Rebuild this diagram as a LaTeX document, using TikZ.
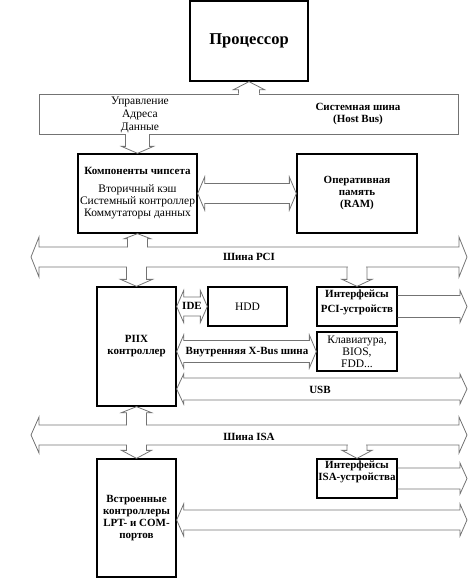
\documentclass[tikz,border=0pt]{standalone}
\usepackage{fontspec}
\setmainfont{Liberation Serif}
\usetikzlibrary{calc,positioning}

% fat bus arrows: tip, base, half shaft, half head, head length
\newcommand{\fatv}[5]{%
  \fill[white] ($(#2)+(-#3+0.8,-1.5)$) rectangle ($(#2)+(#3-0.8,1.5)$);
  \draw[bus] ($(#2)+(-#3,0)$) -- ($(#1)+(-#3,#5)$) -- ($(#1)+(-#4,#5)$) -- (#1)
    -- ($(#1)+(#4,#5)$) -- ($(#1)+(#3,#5)$) -- ($(#2)+(#3,0)$);
}
% left tip, right tip, half shaft, half head, head length
\newcommand{\fatdbl}[5]{%
  \draw[bus] (#1) -- ($(#1)+(#5,-#4)$) -- ($(#1)+(#5,-#3)$) -- ($(#2)+(-#5,-#3)$)
    -- ($(#2)+(-#5,-#4)$) -- (#2) -- ($(#2)+(-#5,#4)$) -- ($(#2)+(-#5,#3)$)
    -- ($(#1)+(#5,#3)$) -- ($(#1)+(#5,#4)$) -- cycle;
}
% base, tip, half shaft, half head, head length
\newcommand{\fath}[5]{%
  \draw[bus] ($(#1)+(0,-#3)$) -- ($(#2)+(-#5,-#3)$) -- ($(#2)+(-#5,-#4)$) -- (#2)
    -- ($(#2)+(-#5,#4)$) -- ($(#2)+(-#5,#3)$) -- ($(#1)+(0,#3)$);
}

\begin{document}
\begin{tikzpicture}
  [x=1pt,y=-1pt,
   box/.style={draw,line width=1.3pt,align=center,inner sep=1pt,
     font=\fontsize{11.5}{12}\selectfont},
   ltext/.style={align=center,inner sep=0pt,font=\fontsize{11.5}{13}\selectfont},
   btext/.style={align=center,inner sep=0pt,font=\fontsize{11}{12}\selectfont\bfseries},
   bus/.style={draw=black!55,line width=0.8pt,line join=miter}]
  \useasboundingbox (0,0) rectangle (474,584);

  \node[box,font=\fontsize{16.5}{18}\selectfont\bfseries,minimum width=118,minimum height=80] (cpu) at (249,41) {Процессор};
  \node[draw=black!55,line width=0.8pt,minimum width=419,minimum height=40] (host) at (248.5,114) {};
  \node[ltext] (ctl) at (140,115) {Управление\\Адреса\\Данные};
  \node[btext] (hostname) at (358,114) {Системная шина\\(Host Bus)};

  \node[box,minimum width=119,minimum height=79] (chip) at (137.5,193.5)
    {\textbf{\fontsize{11}{12}\selectfont Компоненты чипсета}\\[6pt]Вторичный кэш\\Системный контроллер\\Коммутаторы данных};
  \node[box,btext,minimum width=120,minimum height=79] (ram) at (357,193.5) {Оперативная\\память\\(RAM)};

  \node[box,btext,minimum width=79,minimum height=119] (piix) at (136.5,346.5) {PIIX\\контроллер};
  \node[box,minimum width=79,minimum height=39] (hdd) at (247.5,306.5) {HDD};
  \node[box,minimum width=80,minimum height=39] (pcidev) at (357,306.5) {};
  \node[btext,font=\fontsize{11}{15}\selectfont\bfseries] (pcidevL) [below=3pt of pcidev.north] {Интерфейсы\\PCI-устройств};
  \node[box,minimum width=80,minimum height=39] (kbd) at (357,351.5) {Клавиатура,\\BIOS,\\FDD...};

  \node[box,btext,minimum width=79,minimum height=118] (builtin) at (136.5,518) {Встроенные\\контроллеры\\LPT- и COM-\\портов};
  \node[box,minimum width=80,minimum height=39] (isadev) at (357,478.5) {};
  \node[btext] (isadevL) [below=2pt of isadev.north] {Интерфейсы\\ISA-устройства};

  \node[btext] (pcilbl) at (249,257) {Шина PCI};
  \node[btext] (isalbl) at (249,437) {Шина ISA};
  \node[btext] (usblbl) at (320,390) {USB};
  \node[btext] (xbuslbl) at (247,352) {Внутренняя X-Bus шина};
  \node[btext] (idelbl) at (192,306) {IDE};

  \coordinate (pciL) at (31,257);  \coordinate (pciR) at (467,257);
  \coordinate (pciT) at (0,247);   \coordinate (pciB) at (0,267);
  \coordinate (isaL) at (31,435);  \coordinate (isaR) at (467,435);
  \coordinate (isaT) at (0,425);   \coordinate (isaB) at (0,445);
  \coordinate (rEdge) at (467,0);
  \coordinate (usbR) at (467,389);
  \coordinate (lptR) at (467,520);

  \fatdbl{pciL}{pciR}{10}{20}{8}
  \fatdbl{isaL}{isaR}{10}{18}{8}

  \foreach \tip/\base/\s/\h/\l in
    {cpu.south/host.north/10.5/15.5/8, chip.north/host.south/12/16/-7,
     chip.south/pciT/10/13/5, piix.north/pciB/10/16/-7, pcidev.north/pciB/10/15/-7,
     piix.south/isaT/10/15/6, builtin.north/isaB/10/15/-8, isadev.north/isaB/10/15/-8}
    {\fatv{\tip}{\tip |- \base}{\s}{\h}{\l}}

  \fatdbl{chip.east}{ram.west}{10}{16.5}{7}
  \fatdbl{piix.east |- hdd.west}{hdd.west}{9.5}{16}{7}
  \fatdbl{piix.east |- kbd.west}{kbd.west}{11}{16.5}{7}
  \fatdbl{piix.east |- usbR}{usbR}{11}{15}{7}
  \fatdbl{builtin.east |- lptR}{lptR}{10}{16}{7}

  \fath{pcidev.east}{rEdge |- pcidev.east}{11}{16}{7}
  \fath{isadev.east}{rEdge |- isadev.east}{10.5}{15.5}{7}
\end{tikzpicture}
\end{document}
